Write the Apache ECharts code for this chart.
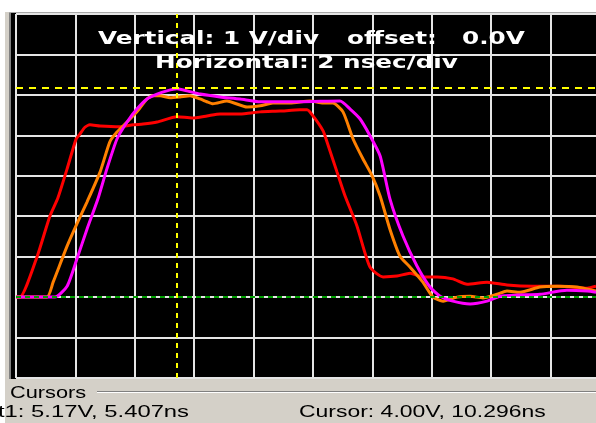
<!DOCTYPE html>
<html>
<head>
<meta charset="utf-8">
<script src="https://cdn.jsdelivr.net/npm/echarts@6/dist/echarts.min.js"></script>
<style>
  html, body { margin: 0; padding: 0; background: #fff; }
  #chart { width: 596px; height: 423px; }
</style>
</head>
<body>
<div id="chart"></div>
<script>
// scope settings: 2 ns/div across, 1 V/div up, 0 V on the 7th line down
const TIME_MIN = 0, TIME_MAX = 20, TIME_DIV = 2;
const VOLT_MIN = -2, VOLT_MAX = 7, VOLT_DIV = 1;

// cursor readout
const cursorVolt = 5.17;
const cursorTime = 5.407;
const baselineVolt = 0;

// traces (ns, V)
const redTime = [0, 0.13, 0.71, 1.14, 1.41, 1.72, 2.02, 2.15, 2.32, 2.49, 2.83, 3.5, 3.94, 4.28, 4.75, 5.42, 5.93, 6.43, 6.87, 7.54, 8.22, 8.89, 9.56, 9.8, 10.0, 10.34, 10.47, 10.81, 11.08, 11.48, 11.92, 12.36, 12.83, 13.27, 13.7, 14.18, 14.71, 15.19, 15.86, 16.53, 17.41, 18.32, 19.23, 19.53];
const redVolt = [0, 0, 1.0, 2.0, 2.45, 3.17, 3.9, 4.03, 4.2, 4.26, 4.23, 4.21, 4.26, 4.28, 4.33, 4.46, 4.43, 4.48, 4.53, 4.53, 4.58, 4.6, 4.63, 4.63, 4.48, 4.11, 3.84, 3.09, 2.5, 1.76, 0.74, 0.5, 0.52, 0.59, 0.5, 0.5, 0.45, 0.32, 0.37, 0.3, 0.27, 0.27, 0.22, 0.27];

const orangeTime = [0, 1.04, 1.25, 1.72, 2.05, 2.39, 2.83, 3.16, 3.4, 3.74, 4.07, 4.41, 4.61, 4.85, 5.19, 5.52, 5.86, 6.2, 6.43, 6.63, 7.1, 7.78, 8.22, 8.65, 9.23, 9.9, 10.34, 10.67, 11.01, 11.35, 11.68, 11.99, 12.26, 12.59, 12.93, 13.27, 13.7, 14.04, 14.38, 14.85, 15.29, 15.72, 16.2, 16.53, 16.97, 17.64, 18.22, 18.89, 19.53];
const orangeVolt = [0, 0, 0.37, 1.26, 1.81, 2.35, 3.09, 3.84, 4.08, 4.33, 4.58, 4.9, 4.98, 4.98, 4.93, 4.95, 4.98, 4.9, 4.83, 4.78, 4.85, 4.7, 4.73, 4.8, 4.8, 4.85, 4.8, 4.8, 4.58, 3.91, 3.42, 3.0, 2.5, 1.68, 1.01, 0.74, 0.37, 0, -0.1, 0, 0.02, -0.02, 0.07, 0.15, 0.12, 0.25, 0.27, 0.25, 0.15];

const magentaTime = [0, 1.31, 1.72, 2.05, 2.39, 2.76, 3.06, 3.4, 3.74, 4.07, 4.41, 4.75, 5.08, 5.42, 5.76, 6.2, 6.87, 7.54, 8.22, 8.89, 9.56, 10.91, 11.25, 11.58, 11.92, 12.26, 12.59, 13.03, 13.5, 13.94, 14.28, 14.71, 15.29, 15.86, 16.3, 16.87, 17.64, 18.55, 19.23, 19.53];
const magentaVolt = [0, 0, 0.27, 0.94, 1.68, 2.43, 3.17, 3.91, 4.33, 4.65, 4.9, 5.02, 5.1, 5.15, 5.1, 5.02, 4.95, 4.9, 4.83, 4.83, 4.83, 4.85, 4.65, 4.41, 3.99, 3.49, 2.43, 1.51, 0.77, 0.25, 0.02, -0.1, -0.17, -0.1, 0.02, 0.05, 0.07, 0.17, 0.15, 0.12];

// screen texts
const headerLine1 = ["Vertical: 1 V/div", "offset:", "0.0V"];
const headerLine2 = "Horizontal: 2 nsec/div";
const panelTitle = "Cursors";
const readoutT1 = "t1: 5.17V, 5.407ns";
const readoutCursor = "Cursor: 4.00V, 10.296ns";

const RED = "#ff0000";
const ORANGE = "#ff8000";
const MAGENTA = "#ff00ff";
const GRIDLINE = "#e4e4e4";
const PANEL = "#d4d0c8";

const zip = (ts, vs) => ts.map((t, i) => [t, vs[i]]);

const hiddenAxis = {
  axisLine: { show: false },
  axisTick: { show: false },
  axisLabel: { show: false },
  splitLine: { show: true, lineStyle: { color: GRIDLINE, width: 2 } },
};

function trace(data, color) {
  return {
    type: "line",
    data,
    smooth: 0.2,
    symbol: "none",
    lineStyle: { color, width: 3 },
    z: 3,
  };
}

const headerFont = 'bold 18px "DejaVu Sans"';
const panelFont = '17px "Liberation Sans"';

function label(text, x, y, font, fill, scaleX) {
  return {
    type: "text",
    x, y, scaleX,
    z: 50,
    silent: true,
    style: { text, font, fill, textVerticalAlign: "middle" },
  };
}

const chart = echarts.init(document.getElementById("chart"));

// the screen runs off the right edge of the window: 10 divisions of ~59.4px
chart.setOption({
  animation: false,
  backgroundColor: "#ffffff",
  grid: {
    left: 16, top: 14, width: 594, height: 364,
    outerBoundsMode: "none",
    containLabel: false,
    show: true, backgroundColor: "#000000", borderWidth: 0,
  },
  xAxis: {
    type: "value",
    min: TIME_MIN, max: TIME_MAX, interval: TIME_DIV,
    ...hiddenAxis,
  },
  yAxis: {
    type: "value",
    min: VOLT_MIN, max: VOLT_MAX, interval: VOLT_DIV,
    ...hiddenAxis,
  },
  series: [
    {
      type: "line",
      data: [],
      z: 2,
      markLine: {
        silent: true,
        symbol: ["none", "none"],
        label: { show: false },
        data: [
          { yAxis: baselineVolt, lineStyle: { color: "#00a000", width: 2, type: [5, 4] } },
          { yAxis: cursorVolt, lineStyle: { color: "#ffff00", width: 2, type: [7, 6] } },
          { xAxis: cursorTime, lineStyle: { color: "#ffff00", width: 2, type: [5, 5] } },
        ],
      },
    },
    trace(zip(redTime, redVolt), RED),
    trace(zip(orangeTime, orangeVolt), ORANGE),
    trace(zip(magentaTime, magentaVolt), MAGENTA),
  ],
  graphic: [
    // window frame around the scope screen
    { type: "rect", shape: { x: 5, y: 12, width: 5, height: 368 }, style: { fill: PANEL }, silent: true },
    { type: "rect", shape: { x: 9, y: 12, width: 587, height: 1 }, style: { fill: "#a8a8a8" }, silent: true },
    { type: "rect", shape: { x: 9, y: 13, width: 2, height: 366 }, style: { fill: "#808080" }, silent: true },
    { type: "rect", shape: { x: 11, y: 13, width: 5, height: 366 }, style: { fill: "#000000" }, silent: true },
    { type: "rect", shape: { x: 16, y: 13, width: 580, height: 1 }, style: { fill: "#000000" }, silent: true },
    { type: "rect", shape: { x: 5, y: 379, width: 591, height: 44 }, style: { fill: PANEL }, silent: true },
    { type: "rect", shape: { x: 97, y: 391, width: 499, height: 1 }, style: { fill: "#808080" }, silent: true },
    { type: "rect", shape: { x: 97, y: 392, width: 499, height: 1 }, style: { fill: "#ffffff" }, silent: true },
    // scope header
    label(headerLine1[0], 98, 39, headerFont, "#ffffff", 1.37),
    label(headerLine1[1], 347, 39, headerFont, "#ffffff", 1.37),
    label(headerLine1[2], 462, 39, headerFont, "#ffffff", 1.37),
    label(headerLine2, 155, 63, headerFont, "#ffffff", 1.37),
    // cursor panel
    label(panelTitle, 10, 393, panelFont, "#000000", 1.28),
    label(readoutT1, -2, 412, panelFont, "#000000", 1.4),
    label(readoutCursor, 299, 412, panelFont, "#000000", 1.35),
  ],
});

window.addEventListener("resize", () => chart.resize());
</script>
</body>
</html>
